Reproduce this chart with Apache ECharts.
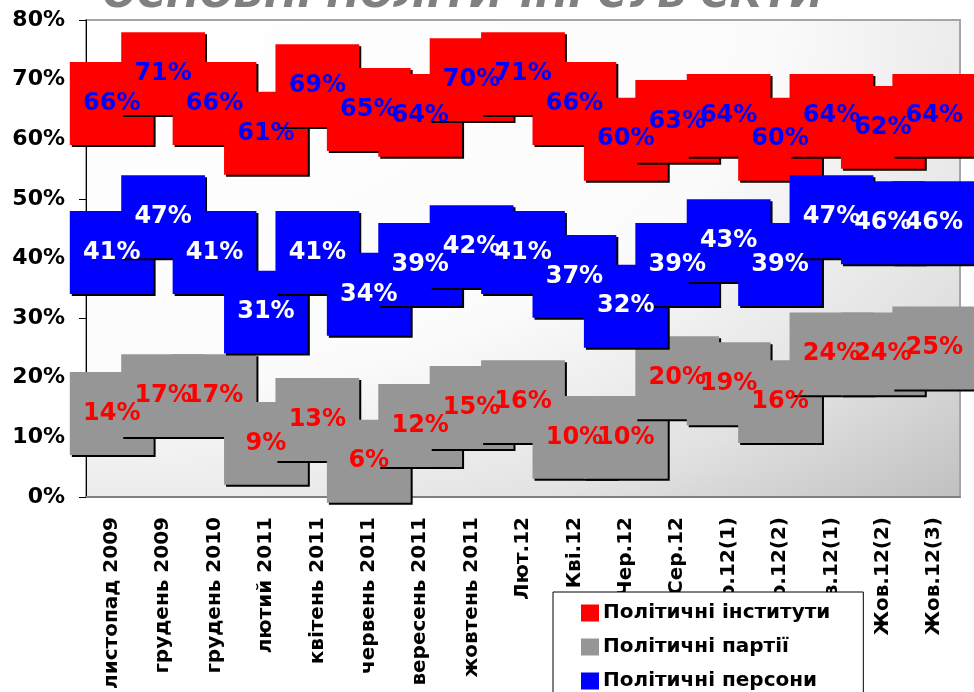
<!DOCTYPE html>
<html lang="uk">
<head>
  <meta charset="UTF-8">
  <title>Основні політичні суб'єкти</title>
  <script src="https://cdn.jsdelivr.net/npm/echarts@6/dist/echarts.min.js"></script>
  <style>
    html, body { margin: 0; padding: 0; background: #fff; }
    #chart { width: 974px; height: 692px; }
  </style>
</head>
<body>
<div id="chart"></div>
<script>
  // категорії (хвилі опитування)
  var categories = [
    'листопад 2009', 'грудень 2009', 'грудень 2010', 'лютий 2011', 'квітень 2011',
    'червень 2011', 'вересень 2011', 'жовтень 2011', 'Лют.12', 'Кві.12', 'Чер.12',
    'Сер.12', 'Вер.12(1)', 'Вер.12(2)', 'Жов.12(1)', 'Жов.12(2)', 'Жов.12(3)'
  ];
  // значення, %
  var institutes = [66, 71, 66, 61, 69, 65, 64, 70, 71, 66, 60, 63, 64, 60, 64, 62, 64];
  var parties    = [14, 17, 17, 9, 13, 6, 12, 15, 16, 10, 10, 20, 19, 16, 24, 24, 25];
  var persons    = [41, 47, 41, 31, 41, 34, 39, 42, 41, 37, 32, 39, 43, 39, 47, 46, 46];
  var yTicks = [0, 10, 20, 30, 40, 50, 60, 70, 80];

  var seriesNames = ['Політичні інститути', 'Політичні партії', 'Політичні персони'];
  var boxColors = ['#ff0000', '#969696', '#0000ff'];
  var labelColors = ['#0000ff', '#ff0000', '#ffffff'];

  var chart = echarts.init(document.getElementById('chart'));

  function toPoints(values) {
    return values.map(function (v, i) { return [i, v]; });
  }

  // великий квадратний маркер з тінню
  function boxRenderer(color) {
    return function (params, api) {
      var p = api.coord([api.value(0), api.value(1)]);
      var w = api.size([1, 0])[0] * 1.63;
      var h = api.size([0, 13.9])[1];
      var x = p[0] - w / 2, y = p[1] - h / 2;
      return {
        type: 'group',
        children: [
          { type: 'rect', shape: { x: x + 2, y: y + 2, width: w, height: h }, style: { fill: '#000' } },
          { type: 'rect', shape: { x: x, y: y, width: w, height: h }, style: { fill: color } }
        ]
      };
    };
  }

  function labelRenderer(color) {
    return function (params, api) {
      var p = api.coord([api.value(0), api.value(1)]);
      return {
        type: 'text',
        style: {
          text: api.value(1) + '%',
          x: p[0], y: p[1],
          align: 'center', verticalAlign: 'middle',
          font: 'bold 24px "DejaVu Sans"',
          fill: color
        }
      };
    };
  }

  var allValues = [institutes, parties, persons];
  var series = [];
  allValues.forEach(function (vals, k) {
    series.push({
      name: seriesNames[k],
      type: 'custom',
      renderItem: boxRenderer(boxColors[k]),
      itemStyle: { color: boxColors[k] },
      encode: { x: 0, y: 1 },
      data: toPoints(vals),
      z: 2
    });
  });
  allValues.forEach(function (vals, k) {
    series.push({
      name: seriesNames[k] + ' мітки',
      type: 'custom',
      renderItem: labelRenderer(labelColors[k]),
      encode: { x: 0, y: 1 },
      data: toPoints(vals),
      silent: true,
      z: 5
    });
  });

  chart.setOption({
    animation: false,
    color: boxColors,
    textStyle: { fontFamily: 'DejaVu Sans' },
    graphic: [
      {
        type: 'rect', z: -10, silent: true,
        x: 86, y: 20, scaleX: 874 / 477,
        shape: { x: 0, y: 0, width: 477, height: 477 },
        style: {
          fill: new echarts.graphic.RadialGradient(0, 0, 1.414, [
            { offset: 0, color: '#ffffff' },
            { offset: 0.55, color: '#fbfbfb' },
            { offset: 0.8, color: '#e2e2e2' },
            { offset: 1, color: '#c0c0c0' }
          ])
        }
      },
      {
        type: 'text', z: 1, silent: true,
        x: 463, y: -3,
        style: {
          text: "ОСНОВНІ ПОЛІТИЧНІ СУБ'ЄКТИ",
          align: 'center', verticalAlign: 'middle',
          font: 'italic bold 40px "DejaVu Sans"',
          fill: '#808080'
        }
      }
    ],
    grid: {
      left: 86, top: 20, width: 874, height: 477,
      show: true, backgroundColor: 'transparent',
      borderColor: '#a6a6a6', borderWidth: 2
    },
    legend: {
      data: seriesNames,
      orient: 'vertical',
      left: 553, top: 592, height: 300,
      padding: [11, 33, 40, 28],
      itemWidth: 18, itemHeight: 17, itemGap: 14,
      icon: 'rect',
      backgroundColor: '#ffffff',
      borderColor: '#000000', borderWidth: 1,
      borderRadius: 0,
      textStyle: { fontSize: 20, fontWeight: 'bold', color: '#000', fontFamily: 'DejaVu Sans', padding: [0, 0, 0, -1] }
    },
    xAxis: {
      type: 'category',
      data: categories,
      boundaryGap: true,
      axisLine: { lineStyle: { color: '#808080', width: 2 } },
      axisTick: { interval: 0, length: 7, lineStyle: { color: '#000' } },
      axisLabel: {
        interval: 0, rotate: 90, margin: 20,
        fontSize: 20, fontWeight: 'bold', color: '#000', fontFamily: 'DejaVu Sans'
      },
      splitLine: { show: false }
    },
    yAxis: {
      type: 'value',
      min: yTicks[0], max: yTicks[yTicks.length - 1], interval: 10,
      axisLine: { show: true, lineStyle: { color: '#000', width: 1 } },
      axisTick: { show: true, length: 7, lineStyle: { color: '#000' } },
      axisLabel: {
        formatter: '{value}%', margin: 21,
        fontSize: 22, fontWeight: 'bold', color: '#000', fontFamily: 'DejaVu Sans'
      },
      splitLine: { show: false }
    },
    series: series
  });
</script>
</body>
</html>
